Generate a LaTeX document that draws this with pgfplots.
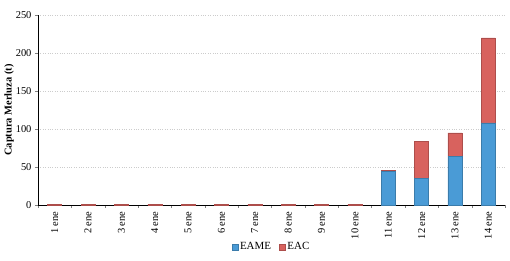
\documentclass[border=0pt]{standalone}
\usepackage{pgfplots}
\pgfplotsset{compat=1.18}
\usepackage{fontspec}
\setmainfont{Liberation Serif}
\definecolor{eame}{HTML}{4A9BD6}
\definecolor{eac}{HTML}{D8625E}
\begin{document}
\begin{tikzpicture}[x=1bp,y=1bp]
\path[use as bounding box] (-38,-55) rectangle (472,205);
\begin{axis}[
  at={(0,0)}, anchor=origin,
  scale only axis, width=467bp, height=190bp,
  ybar stacked, bar width=14bp,
  xmin=0.5, xmax=14.5, ymin=0, ymax=250,
  ytick={0,50,...,250},
  xtick={1,...,14},
  xticklabels={1 ene,2 ene,3 ene,4 ene,5 ene,6 ene,7 ene,8 ene,9 ene,10 ene,11 ene,12 ene,13 ene,14 ene},
  x tick label style={rotate=90, anchor=east, font=\fontsize{10.5}{11}\selectfont},
  y tick label style={font=\fontsize{10.5}{11}\selectfont},
  /pgf/number format/assume math mode=true,
  minor xtick={0.5,1.5,...,14.5},
  major x tick style={draw=none},
  tick align=outside, tick pos=left,
  major tick length=3bp, minor tick length=3bp,
  axis x line*=bottom, axis y line*=left,
  ymajorgrids, grid style={dotted, gray!40},
  ylabel={\bfseries Captura Merluza (t)},
  ylabel style={font=\fontsize{10.5}{11}\selectfont, yshift=-5bp},
  legend style={at={(0.5,-0.175)}, anchor=north, draw=none, legend columns=2,
    font=\fontsize{11}{12}\selectfont, /tikz/every even column/.append style={column sep=6bp}},
  legend image code/.code={\fill[#1] (0bp,-3bp) rectangle (6bp,3bp);},
  axis line style={black},
]
\addplot[fill=eame, draw=eame!80!black] coordinates {(1,0)(2,0)(3,0)(4,0)(5,0)(6,0)(7,0)(8,0)(9,0)(10,0)(11,44)(12,35)(13,64)(14,108)};
\addplot[fill=eac, draw=eac!80!black] coordinates {(1,1.2)(2,1.2)(3,1.2)(4,1.2)(5,1.2)(6,1.2)(7,1.2)(8,1.2)(9,1.2)(10,1.2)(11,1.5)(12,49)(13,31)(14,112)};
\legend{EAME,EAC}
\end{axis}
\end{tikzpicture}
\end{document}
